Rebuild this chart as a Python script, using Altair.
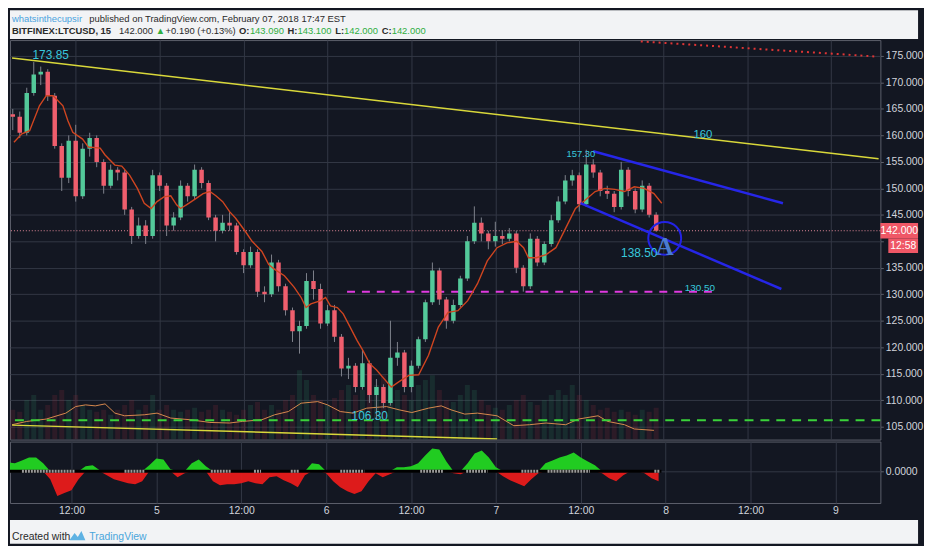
import altair as alt
import pandas as pd

# ---------------- data ----------------
# hourly candles, time in hours since Feb 4 00:00
hours = list(range(3, 96))
first_open = 164.0
closes = [163.5, 160.5, 168.0, 171.5, 172.0, 167.5, 158.0, 152.0, 159.0, 148.5,
          157.5, 159.5, 155.0, 150.5, 153.5, 153.0, 146.0, 141.0, 143.0, 141.0,
          152.5, 150.5, 143.0, 144.5, 150.5, 148.5, 153.5, 151.0, 144.5, 142.0,
          143.5, 143.0, 138.0, 135.5, 138.0, 130.5, 130.0, 136.0, 131.5, 127.0,
          123.0, 124.0, 132.5, 131.0, 124.5, 127.0, 122.0, 116.0, 116.5, 112.5,
          117.0, 111.0, 112.5, 109.5, 118.0, 119.0, 112.5, 116.5, 121.5, 128.5,
          134.5, 129.0, 125.0, 128.0, 133.0, 140.0, 143.5, 141.5, 140.0, 141.0,
          140.5, 141.5, 135.0, 131.5, 140.5, 136.0, 139.5, 144.0, 147.5, 151.5,
          152.5, 147.0, 154.5, 153.0, 149.5, 149.0, 146.5, 153.5, 149.5, 146.0,
          150.5, 145.0, 142.0]
highs = [165, 164.5, 169, 173.85, 173, 172.5, 168, 158.5, 160, 162,
         158.5, 160.5, 160, 155.5, 154.5, 154, 153.5, 146.5, 144.5, 144,
         153.5, 153, 151, 145.5, 151.5, 151, 154.5, 154, 151.5, 145,
         145, 145.5, 143.5, 138.5, 139, 138.5, 131.5, 137.5, 136.5, 132,
         127.5, 125, 134, 134.5, 132, 128, 128, 122.5, 118, 117,
         119.5, 117.5, 114, 113, 125, 121, 119.5, 117.5, 122, 129,
         136, 135, 129.5, 129, 133.5, 141, 146.6, 144.5, 142, 143.7,
         142, 142.5, 142, 135.5, 141.5, 141, 140, 145, 148.5, 152.5,
         153.5, 153, 157.3, 155.5, 153.5, 150.5, 149.5, 155, 154, 150,
         151.5, 151, 145.5]
lows = [161, 159.5, 160, 167.5, 169.5, 166.5, 157.5, 149.5, 151, 147.5,
        148, 156, 154, 149, 150, 151.5, 145, 139.5, 140.5, 139.5,
        140.5, 149.5, 141, 142, 144, 147.5, 148, 150, 144, 140,
        141.5, 142, 137.5, 134, 135, 129.5, 128.5, 129.5, 130.5, 126,
        121, 118.8, 123.5, 129, 123.5, 124, 121, 114.5, 114, 111.5,
        112, 109.5, 106.3, 108.5, 109, 116.5, 111.5, 111.5, 116, 121,
        128, 128, 123.5, 124.5, 127.5, 132.5, 139.5, 140, 138.5, 139,
        139.5, 140, 134, 130.5, 131, 135.3, 135.5, 139, 143.5, 147,
        150.5, 145.6, 146.5, 152, 148.5, 148, 145.5, 146, 148.5, 145.3,
        145.5, 144.5, 141.8]
volumes = [30, 28, 40, 45, 30, 35, 45, 50, 40, 45,
           35, 30, 28, 30, 25, 30, 35, 40, 30, 35,
           45, 30, 35, 30, 28, 30, 32, 28, 30, 35,
           30, 28, 25, 30, 35, 38, 30, 35, 30, 40,
           45, 70, 60, 45, 40, 35, 42, 50, 55, 45,
           50, 60, 55, 65, 70, 50, 45, 40, 55, 60,
           65, 50, 40, 38, 45, 55, 50, 40, 35, 32,
           30, 35, 40, 45, 38, 35, 40, 45, 50, 45,
           55, 45, 40, 35, 30, 32, 28, 30, 28, 25,
           30, 28, 32]
momentum = [9, 8, 11, 14, 14, 8, -8, -25, -22, -19,
            -8, 5, 6, 1, -4, -8, -10, -12, -13, -10,
            6, 13, 12, 2, -6, -2, 8, 12, 5, -10,
            -14, -13, -13, -12, -10, -12, -13, -6, -5, -9,
            -12, -16, -4, 8, 7, -2, -10, -16, -20, -23,
            -20, -10, -2, -6, -3, 4, 4, 5, 8, 16,
            23, 22, 10, -2, -3, 8, 18, 21, 14, 4,
            -5, -9, -12, -15, -8, -2, 8, 11, 14, 16,
            19, 14, 10, 6, -2, -7, -10, -4, 0, 0,
            -2, -7, -10]
squeeze_start = [5, 19.5, 31.7, 37.8, 43, 50, 61.3, 67.8, 75.6, 79.3, 94.4]
squeeze_end = [12.5, 22.3, 34.5, 38.8, 44.2, 53.4, 64.5, 70.8, 78, 85.3, 95.2]

ma_hours = [3.17, 4.29, 5.41, 6.81, 7.79, 8.77, 10.17, 10.87, 11.58, 12.98,
            13.82, 15.5, 16.2, 17.6, 18.58, 19.7, 20.82, 21.8, 22.79, 23.63,
            24.61, 25.59, 26.43, 26.99, 27.83, 29.23, 30.21, 31.19, 32.04, 33.02,
            34.0, 34.84, 36.24, 37.22, 38.62, 39.6, 40.44, 41.84, 43.25, 44.23,
            44.93, 45.63, 47.03, 47.73, 48.43, 49.41, 50.25, 51.24, 52.22, 53.06,
            54.04, 55.02, 55.86, 57.12, 58.24, 59.64, 61.04, 62.45, 63.85, 65.25,
            66.65, 68.05, 69.45, 70.85, 72.25, 73.65, 75.06, 76.04, 76.74, 77.86,
            79.26, 80.66, 82.06, 83.46, 84.87, 86.27, 87.67, 89.07, 90.47, 91.87,
            93.27, 94.68, 95.8]
ma_values = [158.7, 160.3, 160.9, 165.6, 167.5, 167.5, 165.6, 162.8, 160.6, 159.3,
             157.8, 157.6, 156.3, 154.4, 154.2, 152.5, 150.0, 147.2, 146.2, 147.5,
             148.4, 148.6, 146.9, 146.2, 146.9, 148.1, 149.0, 149.4, 148.6, 147.5,
             145.6, 144.4, 141.9, 140.0, 138.1, 135.6, 134.7, 133.5, 131.3, 129.4,
             127.5, 128.2, 128.8, 129.4, 127.8, 127.5, 126.3, 123.8, 121.3, 119.4,
             116.9, 115.7, 114.4, 112.5, 113.5, 114.7, 114.8, 118.5, 123.8, 126.6,
             126.9, 128.8, 132.0, 136.3, 138.8, 139.7, 140.0, 138.8, 136.9, 136.9,
             137.5, 138.8, 142.5, 146.2, 147.8, 149.4, 150.0, 149.8, 149.4, 150.3,
             150.0, 149.0, 147.2]
vma_hours = [2.9, 4.99, 7.79, 10.59, 11.99, 13.4, 14.8, 16.2, 17.6, 19.0,
             21.8, 23.63, 25.59, 28.39, 31.19, 34.0, 35.82, 38.62, 40.44, 42.41,
             44.23, 46.61, 48.01, 49.83, 51.65, 53.62, 56.42, 58.24, 60.06, 62.45,
             64.27, 65.67, 67.63, 69.45, 72.25, 74.64, 76.88, 79.26, 82.06, 83.88,
             86.69, 88.09, 90.47, 91.87, 94.68]
vma_values = [15, 18.3, 20.7, 26.7, 33.3, 35, 34, 36, 26.7, 24,
              25, 26.7, 21.7, 20, 17.3, 16.7, 18.3, 20, 25, 28.3,
              36.7, 38.3, 35, 28.3, 26.7, 31.7, 33.3, 30, 27.3, 31.7,
              34, 30, 25.7, 26.7, 24, 14, 15, 16.7, 15, 20.7,
              24, 18.3, 15, 10.7, 9.3]

# drawings (hours, price)
trend_names = ["top", "top", "low", "low"]
trend_h = [2.9, 126.8, 2.9, 72.25]
trend_p = [174.6, 155.6, 105.3, 102.7]
channel_names = ["upper", "upper", "lower", "lower"]
channel_h = [85.99, 113.13, 84.17, 112.9]
channel_p = [157.0, 147.2, 147.2, 131.0]
red_h = [92.8, 126.4]
red_p = [177.75, 174.9]
support_level = 130.5
support_h = [50.8, 103.8]
green_level = 106.2
last_time = "12:58"
label_text = ["173.85", "157.30", "160", "138.50", "130.50", "106.30"]
label_h = [8.42, 84.24, 101.68, 92.57, 101.26, 54.04]
label_p = [175.19, 156.53, 160.08, 137.81, 131.26, 107.06]
label_size = [12, 9.5, 11.5, 12, 10, 12]
circle_h = [96.22]
circle_p = [140.56]
wave_label = ["A"]
wave_h = [96.22]
wave_p = [138.97]

tick_hours = list(range(12, 121, 12))
price_ticks = list(range(105, 176, 5))

# ---------------- styles ----------------
DARK = "#131722"
LIGHT = "#f2f3f5"
GRID = "#333845"
BORDER = "#5d606b"
AXTXT = "#d1d4dc"
FONT = "Liberation Sans"
UP = "#53c99a"
DOWN = "#ef5e6d"
CYAN = "#38c8dc"

W = 878
PH = 403
IH = 62
XS = alt.Scale(domain=[3.31, 126.35], nice=False, zero=False)
PS = alt.Scale(domain=[102.57, 178.0], nice=False, zero=False)

x_axis_top = alt.Axis(values=tick_hours, labels=False, ticks=False, domain=False,
                      grid=True, gridColor=GRID, title=None, minExtent=0, maxExtent=0)
price_axis = alt.Axis(orient="right", values=price_ticks,
                      labelExpr="datum.value == 140 ? '' : format(datum.value, '.3f')",
                      grid=True, gridColor=GRID, domain=False, tickColor=BORDER, tickSize=3,
                      labelPadding=2, labelColor=AXTXT, labelFontSize=10.5,
                      labelFont=FONT, title=None, minExtent=38, maxExtent=38)


def X(f):
    return alt.X(f, type="quantitative", scale=XS, axis=x_axis_top)


def P(f):
    return alt.Y(f, type="quantitative", scale=PS, axis=price_axis)


opens = [first_open] + closes[:-1]
cd = pd.DataFrame({"h": hours, "open": opens, "close": closes, "high": highs,
                   "low": lows, "vol": volumes})
cd["dir"] = ["up" if c >= o else "down" for o, c in zip(opens, closes)]
cd["vdir"] = cd["dir"]
dir_color = alt.Color("dir:N", scale=alt.Scale(domain=["up", "down"], range=[UP, DOWN]),
                      legend=None)
vol_color = alt.Color("vdir:N", scale=alt.Scale(domain=["up", "down"],
                                                range=["#2f7d5c", "#8a2e3a"]), legend=None)

# volume overlay (own scale)
vscale = alt.Scale(domain=[0, PH], nice=False, zero=True)
vol_bars = alt.Chart(cd).mark_bar(width=5, opacity=0.22, clip=True).encode(
    x=X("h"), y=alt.Y("vol:Q", scale=vscale, axis=None), color=vol_color)
vma_df = pd.DataFrame({"h": vma_hours, "v": vma_values})
vma_line = alt.Chart(vma_df).mark_line(color="#d98a4e", strokeWidth=1, clip=True).encode(
    x=X("h"), y=alt.Y("v:Q", scale=vscale, axis=None))
volume_layer = alt.layer(vol_bars, vma_line)

trend_df = pd.DataFrame({"g": trend_names, "h": trend_h, "p": trend_p})
trend = alt.Chart(trend_df).mark_line(color="#d9d83a", strokeWidth=1.5, clip=True).encode(
    x=X("h"), y=P("p"), detail="g:N")
green_line = alt.Chart(pd.DataFrame({"p": [green_level]})).mark_rule(
    color="#3ad23a", strokeWidth=2, strokeDash=[9, 7]).encode(y=P("p"))
sup_df = pd.DataFrame({"h": support_h, "p": [support_level] * 2})
sup_line = alt.Chart(sup_df).mark_line(color="#e03ae0", strokeWidth=2,
                                       strokeDash=[8, 7]).encode(x=X("h"), y=P("p"))
last_df = pd.DataFrame({"p": [closes[-1]], "lbl": [f"{closes[-1]:.3f}"], "tm": [last_time]})
price_line = alt.Chart(last_df).mark_rule(color="#e58a9a", strokeWidth=1,
                                          strokeDash=[1, 2]).encode(y=P("p"))
wicks = alt.Chart(cd).mark_rule(color="#80838d", strokeWidth=1, clip=True).encode(
    x=X("h"), y=P("low"), y2=alt.Y2("high"))
bodies = alt.Chart(cd).mark_bar(width=4.5, clip=True).encode(
    x=X("h"), y=P("open"), y2=alt.Y2("close"), color=dir_color)
ma_df = pd.DataFrame({"h": ma_hours, "p": ma_values})
ma_line = alt.Chart(ma_df).mark_line(color="#cf4520", strokeWidth=1.4, clip=True).encode(
    x=X("h"), y=P("p"))
ch_df = pd.DataFrame({"g": channel_names, "h": channel_h, "p": channel_p})
channel = alt.Chart(ch_df).mark_line(color="#2626e8", strokeWidth=2.5).encode(
    x=X("h"), y=P("p"), detail="g:N")
red_df = pd.DataFrame({"h": red_h, "p": red_p})
red_line = alt.Chart(red_df).mark_line(color="#e03535", strokeWidth=2,
                                       strokeDash=[2, 4], clip=True).encode(x=X("h"), y=P("p"))
circ = alt.Chart(pd.DataFrame({"h": circle_h, "p": circle_p})).mark_point(
    shape="circle", filled=False, size=1100, strokeWidth=2, color="#2323e6", opacity=1
).encode(x=X("h"), y=P("p"))
wave = alt.Chart(pd.DataFrame({"t": wave_label, "h": wave_h, "p": wave_p})).mark_text(
    font="Liberation Serif", fontSize=25, fontWeight="bold", color="#4a7bd0",
    baseline="middle", align="center").encode(x=X("h"), y=P("p"), text="t:N")

label_layers = []
for t, hh, pp, sz in zip(label_text, label_h, label_p, label_size):
    label_layers.append(
        alt.Chart(pd.DataFrame({"t": [t], "h": [hh], "p": [pp]})).mark_text(
            font=FONT, fontSize=sz, color=CYAN, align="center", baseline="middle"
        ).encode(x=X("h"), y=P("p"), text="t:N"))

box1 = alt.Chart(last_df).transform_calculate(
    top="datum.p + 1.45", bot="datum.p - 1.45").mark_rect(color="#ef5766").encode(
    x=alt.value(W), x2=alt.value(W + 38), y=P("top:Q"), y2=alt.Y2("bot:Q"))
box2 = alt.Chart(last_df).transform_calculate(
    top="datum.p - 1.45", bot="datum.p - 4.2").mark_rect(color="#ef5766").encode(
    x=alt.value(W + 8), x2=alt.value(W + 38), y=P("top:Q"), y2=alt.Y2("bot:Q"))
box1_t = alt.Chart(last_df).mark_text(font=FONT, fontSize=10.5, color="white",
                                      align="center", baseline="middle").encode(
    x=alt.value(W + 19), y=P("p"), text="lbl:N")
box2_t = alt.Chart(last_df).transform_calculate(m="datum.p - 2.85").mark_text(
    font=FONT, fontSize=10.5, color="white", align="center", baseline="middle").encode(
    x=alt.value(W + 23), y=P("m:Q"), text="tm:N")

price_layer = alt.layer(trend, green_line, sup_line, price_line, wicks, bodies, ma_line,
                        channel, red_line, circ, wave, *label_layers,
                        box1, box2, box1_t, box2_t)
price_panel = alt.layer(volume_layer, price_layer).resolve_scale(
    y="independent", color="independent").properties(width=W, height=PH)

# ---------------- momentum panel ----------------
IS = alt.Scale(domain=[-32, 30], nice=False, zero=False)
x_axis_bottom = alt.Axis(values=tick_hours,
                         labelExpr="datum.value % 24 == 0 ? '' + (4 + datum.value / 24) : '12:00'",
                         grid=True, gridColor=GRID, ticks=False, domain=False,
                         labelColor=AXTXT, labelFontSize=10.5, labelFont=FONT,
                         labelPadding=3, title=None, minExtent=16, maxExtent=16,
                         labelFlush=False)
ind_axis = alt.Axis(orient="right", values=[0], format=".4f", grid=True, gridColor=GRID,
                    tickSize=3, tickColor=BORDER, domain=False, labelColor=AXTXT,
                    labelFontSize=10.5, labelFont=FONT, labelPadding=2, title=None,
                    minExtent=38, maxExtent=38)


def XB(f):
    return alt.X(f, type="quantitative", scale=XS, axis=x_axis_bottom)


def YI(f):
    return alt.Y(f, type="quantitative", scale=IS, axis=ind_axis)


md = pd.DataFrame({"h": hours, "m": momentum})
md["pos"] = md["m"].clip(lower=0)
md["neg"] = md["m"].clip(upper=0)
pos_area = alt.Chart(md).mark_area(color="#22d622", opacity=0.95, clip=True).encode(
    x=XB("h"), y=YI("pos"), y2=alt.datum(0))
neg_area = alt.Chart(md).mark_area(color="#e81b1b", opacity=0.95, clip=True).encode(
    x=XB("h"), y=YI("neg"), y2=alt.datum(0))
zero_df = pd.DataFrame({"a": [hours[0] - 0.5], "b": [hours[-1] + 0.4], "z": [0]})
zero_line = alt.Chart(zero_df).mark_rule(color="black", strokeWidth=3, clip=True).encode(
    x=XB("a"), x2=alt.X2("b"), y=YI("z"))
sq_df = pd.DataFrame({"a": squeeze_start, "b": squeeze_end, "z": [0] * len(squeeze_start)})
sq_line = alt.Chart(sq_df).mark_rule(color="#9a9a9a", strokeWidth=3, strokeDash=[2, 1]).encode(
    x=XB("a"), x2=alt.X2("b"), y=YI("z"))
ind_panel = alt.layer(pos_area, neg_area, zero_line, sq_line).properties(width=W, height=IH)

# ---------------- header / footer ----------------


def seg(txt, x, y, color, size, weight="normal", font=FONT):
    return alt.Chart(pd.DataFrame({"t": [txt]})).mark_text(
        align="left", baseline="middle", fontSize=size, fontWeight=weight, font=font,
        color=color).encode(x=alt.value(x), y=alt.value(y), text="t:N")


DK = "#2a2a2a"
GR = "#2fae3f"
header = alt.layer(
    seg("whatsinthecupsir", 2, 9, "#4aa3df", 9.5),
    seg("published on TradingView.com, February 07, 2018 17:47 EST", 80, 9, DK, 9.5),
    seg("BITFINEX:LTCUSD, 15", 2, 21, DK, 9.5, "bold"),
    seg("142.000", 110, 21, DK, 9.5),
    seg("▲", 147, 21, GR, 9.5),
    seg("+0.190 (+0.13%)", 157, 21, DK, 9.5),
    seg("O:", 231, 21, DK, 9.5, "bold"),
    seg("143.090", 242, 21, GR, 9.5),
    seg("H:", 280, 21, DK, 9.5, "bold"),
    seg("143.100", 290, 21, GR, 9.5),
    seg("L:", 328, 21, DK, 9.5, "bold"),
    seg("142.000", 337, 21, GR, 9.5),
    seg("C:", 375, 21, DK, 9.5, "bold"),
    seg("142.000", 385, 21, GR, 9.5),
).properties(width=W + 38, height=29,
             view=alt.ViewBackground(fill=LIGHT, stroke="transparent", strokeWidth=0))

logo = alt.Chart(pd.DataFrame({"t": ["logo"]})).mark_point(
    shape="M-1,0.55L-0.35,-0.35L0.05,0.15L0.5,-0.6L1,0.55Z", filled=True, size=260,
    color="#5fb2e3", opacity=1).encode(x=alt.value(68), y=alt.value(16))
footer = alt.layer(
    seg("Created with", 2, 17, DK, 10.5),
    logo,
    seg("TradingView", 80, 17, "#4aa6dc", 10.5),
).properties(width=W + 38, height=24,
             view=alt.ViewBackground(fill=LIGHT, stroke="transparent", strokeWidth=0))

chart = alt.vconcat(header, price_panel, ind_panel, footer, spacing=0).properties(
    padding=0
).configure(background=DARK).configure_view(stroke=BORDER, strokeWidth=1, fill=DARK)

chart.save("out.html", embed_options={"renderer": "svg", "actions": False})
